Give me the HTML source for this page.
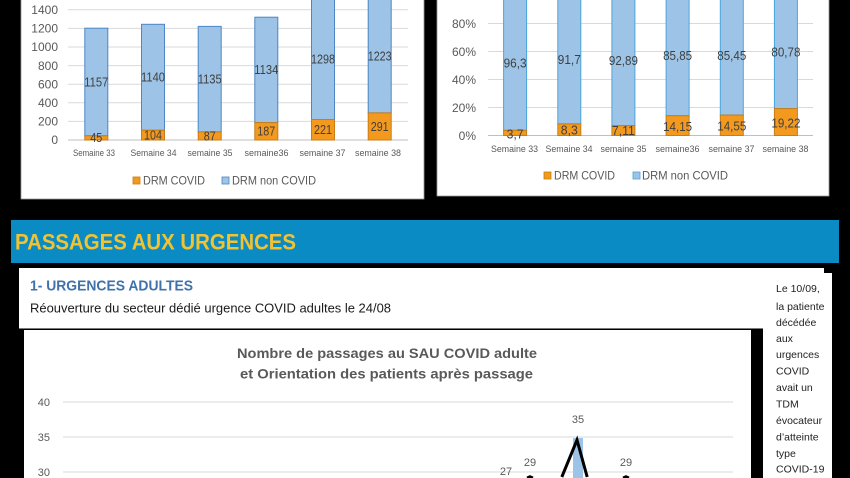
<!DOCTYPE html>
<html><head><meta charset="utf-8"><style>
html,body{margin:0;padding:0;background:#000;width:850px;height:478px;overflow:hidden}
svg{display:block;font-family:"Liberation Sans",sans-serif}
</style></head><body>
<svg width="850" height="478" viewBox="0 0 850 478" xmlns="http://www.w3.org/2000/svg">
<rect width="850" height="478" fill="#000"/>

<!-- ===== Top-left chart ===== -->
<rect x="21" y="-2" width="403" height="201" fill="#fff" stroke="#9a9a9a" stroke-width="0.8"/>
<g stroke="#d9d9d9" stroke-width="1">
<line x1="68" x2="408" y1="9.8" y2="9.8"/><line x1="68" x2="408" y1="28.4" y2="28.4"/>
<line x1="68" x2="408" y1="47" y2="47"/><line x1="68" x2="408" y1="65.6" y2="65.6"/>
<line x1="68" x2="408" y1="84.2" y2="84.2"/><line x1="68" x2="408" y1="102.8" y2="102.8"/>
<line x1="68" x2="408" y1="121.4" y2="121.4"/>
</g>
<line x1="68" x2="408" y1="140" y2="140" stroke="#bfbfbf"/>
<g font-size="12" fill="#595959" text-anchor="end">
<text x="58" y="14">1400</text><text x="58" y="32.6">1200</text><text x="58" y="51.2">1000</text>
<text x="58" y="69.8">800</text><text x="58" y="88.4">600</text><text x="58" y="107">400</text>
<text x="58" y="125.6">200</text><text x="58" y="144.2">0</text>
</g>
<g stroke="#4f86c6" stroke-width="1" fill="#9dc3e6">
<rect x="84.8" y="28.2" width="23" height="107.6"/>
<rect x="141.5" y="24.3" width="23" height="106"/>
<rect x="198.2" y="26.4" width="23" height="105.5"/>
<rect x="254.8" y="17.2" width="23" height="105.4"/>
<rect x="311.5" y="-2" width="23" height="121.5"/>
<rect x="368.2" y="-2" width="23" height="114.9"/>
</g>
<g stroke="#c97d14" stroke-width="1" fill="#f39a1e">
<rect x="84.8" y="135.8" width="23" height="4.2"/>
<rect x="141.5" y="130.3" width="23" height="9.7"/>
<rect x="198.2" y="131.9" width="23" height="8.1"/>
<rect x="254.8" y="122.6" width="23" height="17.4"/>
<rect x="311.5" y="119.5" width="23" height="20.5"/>
<rect x="368.2" y="112.9" width="23" height="27.1"/>
</g>
<g font-size="12.5" fill="#404040" text-anchor="middle">
<text x="96.3" y="86.3" textLength="24" lengthAdjust="spacingAndGlyphs">1157</text>
<text x="153" y="81.6" textLength="24" lengthAdjust="spacingAndGlyphs">1140</text>
<text x="209.7" y="83.4" textLength="24" lengthAdjust="spacingAndGlyphs">1135</text>
<text x="266.3" y="74.2" textLength="24" lengthAdjust="spacingAndGlyphs">1134</text>
<text x="323" y="63.4" textLength="24" lengthAdjust="spacingAndGlyphs">1298</text>
<text x="379.7" y="60.4" textLength="24" lengthAdjust="spacingAndGlyphs">1223</text>
<text x="96.3" y="142.2" textLength="12" lengthAdjust="spacingAndGlyphs">45</text>
<text x="153" y="139.5" textLength="18" lengthAdjust="spacingAndGlyphs">104</text>
<text x="209.7" y="140.3" textLength="12" lengthAdjust="spacingAndGlyphs">87</text>
<text x="266.3" y="135.6" textLength="18" lengthAdjust="spacingAndGlyphs">187</text>
<text x="323" y="134" textLength="18" lengthAdjust="spacingAndGlyphs">221</text>
<text x="379.7" y="130.8" textLength="18" lengthAdjust="spacingAndGlyphs">291</text>
</g>
<g font-size="9" fill="#595959" text-anchor="middle">
<text x="94" y="156.2" textLength="42" lengthAdjust="spacingAndGlyphs">Semaine 33</text>
<text x="153.5" y="156.2" textLength="46" lengthAdjust="spacingAndGlyphs">Semaine 34</text>
<text x="210" y="156.2" textLength="45" lengthAdjust="spacingAndGlyphs">semaine 35</text>
<text x="266.5" y="156.2" textLength="44" lengthAdjust="spacingAndGlyphs">semaine36</text>
<text x="322.5" y="156.2" textLength="46" lengthAdjust="spacingAndGlyphs">semaine 37</text>
<text x="378" y="156.2" textLength="46" lengthAdjust="spacingAndGlyphs">semaine 38</text>
</g>
<rect x="133" y="177" width="7" height="7" fill="#f39a1e" stroke="#c97d14" stroke-width="0.8"/>
<rect x="222" y="177" width="7" height="7" fill="#9dc3e6" stroke="#4f86c6" stroke-width="0.8"/>
<g font-size="12" fill="#595959">
<text x="143" y="184.3" textLength="62" lengthAdjust="spacingAndGlyphs">DRM COVID</text>
<text x="232" y="184.3" textLength="84" lengthAdjust="spacingAndGlyphs">DRM non COVID</text>
</g>

<!-- ===== Top-right chart ===== -->
<rect x="437" y="-2" width="392" height="198" fill="#fff" stroke="#9a9a9a" stroke-width="0.8"/>
<g stroke="#d9d9d9" stroke-width="1">
<line x1="488" x2="813" y1="23.5" y2="23.5"/><line x1="488" x2="813" y1="51.5" y2="51.5"/>
<line x1="488" x2="813" y1="79.5" y2="79.5"/><line x1="488" x2="813" y1="107.5" y2="107.5"/>
</g>
<line x1="488" x2="813" y1="135.5" y2="135.5" stroke="#bfbfbf"/>
<g font-size="12" fill="#595959" text-anchor="end">
<text x="476" y="27.8">80%</text><text x="476" y="55.8">60%</text><text x="476" y="83.8">40%</text>
<text x="476" y="111.8">20%</text><text x="476" y="139.8">0%</text>
</g>
<g stroke="#4aa6dc" stroke-width="1" fill="#9dc3e6">
<rect x="503.6" y="-6" width="23" height="136.3"/>
<rect x="557.8" y="-6" width="23" height="129.9"/>
<rect x="611.9" y="-6" width="23" height="131.6"/>
<rect x="666.1" y="-6" width="23" height="121.7"/>
<rect x="720.3" y="-6" width="23" height="121.1"/>
<rect x="774.4" y="-6" width="23" height="114.6"/>
</g>
<g stroke="#c97d14" stroke-width="1" fill="#f39a1e">
<rect x="503.6" y="130.3" width="23" height="5.2"/>
<rect x="557.8" y="123.9" width="23" height="11.6"/>
<rect x="611.9" y="125.6" width="23" height="9.9"/>
<rect x="666.1" y="115.7" width="23" height="19.8"/>
<rect x="720.3" y="115.1" width="23" height="20.4"/>
<rect x="774.4" y="108.6" width="23" height="26.9"/>
</g>
<g font-size="12.5" fill="#404040" text-anchor="middle">
<text x="515.1" y="67.4" textLength="23" lengthAdjust="spacingAndGlyphs">96,3</text>
<text x="569.3" y="64.2" textLength="23" lengthAdjust="spacingAndGlyphs">91,7</text>
<text x="623.4" y="65" textLength="29" lengthAdjust="spacingAndGlyphs">92,89</text>
<text x="677.6" y="60" textLength="29" lengthAdjust="spacingAndGlyphs">85,85</text>
<text x="731.8" y="59.8" textLength="29" lengthAdjust="spacingAndGlyphs">85,45</text>
<text x="785.9" y="56.5" textLength="29" lengthAdjust="spacingAndGlyphs">80,78</text>
<text x="515.1" y="138.6" textLength="17" lengthAdjust="spacingAndGlyphs">3,7</text>
<text x="569.3" y="134.4" textLength="17" lengthAdjust="spacingAndGlyphs">8,3</text>
<text x="623.4" y="135.2" textLength="23" lengthAdjust="spacingAndGlyphs">7,11</text>
<text x="677.6" y="130.8" textLength="29" lengthAdjust="spacingAndGlyphs">14,15</text>
<text x="731.8" y="130.6" textLength="29" lengthAdjust="spacingAndGlyphs">14,55</text>
<text x="785.9" y="127.3" textLength="29" lengthAdjust="spacingAndGlyphs">19,22</text>
</g>
<g font-size="9" fill="#595959" text-anchor="middle">
<text x="514.5" y="152.2" textLength="47" lengthAdjust="spacingAndGlyphs">Semaine 33</text>
<text x="569" y="152.2" textLength="47" lengthAdjust="spacingAndGlyphs">Semaine 34</text>
<text x="623.5" y="152.2" textLength="46" lengthAdjust="spacingAndGlyphs">semaine 35</text>
<text x="677.5" y="152.2" textLength="44" lengthAdjust="spacingAndGlyphs">semaine36</text>
<text x="731.5" y="152.2" textLength="46" lengthAdjust="spacingAndGlyphs">semaine 37</text>
<text x="785.5" y="152.2" textLength="46" lengthAdjust="spacingAndGlyphs">semaine 38</text>
</g>
<rect x="544" y="172" width="7" height="7" fill="#f39a1e" stroke="#c97d14" stroke-width="0.8"/>
<rect x="633" y="172" width="7" height="7" fill="#9dc3e6" stroke="#4aa6dc" stroke-width="0.8"/>
<g font-size="12" fill="#595959">
<text x="554" y="179.3" textLength="61" lengthAdjust="spacingAndGlyphs">DRM COVID</text>
<text x="642" y="179.3" textLength="86" lengthAdjust="spacingAndGlyphs">DRM non COVID</text>
</g>

<!-- ===== Banner ===== -->
<rect x="11" y="220" width="828" height="43" fill="#0b8bc3"/>
<text x="15" y="249.5" font-size="22" font-weight="bold" fill="#f2c230" textLength="281" lengthAdjust="spacingAndGlyphs">PASSAGES AUX URGENCES</text>

<!-- ===== Text box + note column ===== -->
<rect x="19" y="268" width="805" height="60" fill="#fff"/>
<line x1="19" x2="763" y1="328.5" y2="328.5" stroke="#7a7a7a" stroke-width="1"/>
<rect x="763" y="273" width="69" height="205" fill="#fff"/>
<text x="30" y="290.5" font-size="15" font-weight="bold" fill="#3f72aa" textLength="163" lengthAdjust="spacingAndGlyphs">1- URGENCES ADULTES</text>
<text x="30" y="312.5" font-size="13" fill="#1a1a1a" textLength="361" lengthAdjust="spacingAndGlyphs">Réouverture du secteur dédié urgence COVID adultes le 24/08</text>
<g font-size="10.5" fill="#222">
<text x="776" y="291.8">Le 10/09,</text>
<text x="776" y="309.8">la patiente</text>
<text x="776" y="325.8">décédée</text>
<text x="776" y="341.8">aux</text>
<text x="776" y="357.8">urgences</text>
<text x="776" y="374.3">COVID</text>
<text x="776" y="390.8">avait un</text>
<text x="776" y="407.3">TDM</text>
<text x="776" y="423.8">évocateur</text>
<text x="776" y="440.3">d’atteinte</text>
<text x="776" y="456.8">type</text>
<text x="776" y="472.3">COVID-19</text>
</g>

<!-- ===== Line chart box ===== -->
<rect x="24" y="330" width="727" height="148" fill="#fff"/>
<g font-size="14" font-weight="bold" fill="#595959" text-anchor="middle">
<text x="387" y="358" textLength="300" lengthAdjust="spacingAndGlyphs">Nombre de passages au SAU COVID adulte</text>
<text x="386.5" y="378.5" textLength="293" lengthAdjust="spacingAndGlyphs">et Orientation des patients après passage</text>
</g>
<g stroke="#d9d9d9" stroke-width="1">
<line x1="63" x2="733" y1="402" y2="402"/>
<line x1="63" x2="733" y1="437" y2="437"/>
<line x1="63" x2="733" y1="472" y2="472"/>
</g>
<g font-size="11" fill="#595959" text-anchor="end">
<text x="50" y="406">40</text><text x="50" y="441">35</text><text x="50" y="476">30</text>
</g>
<rect x="573" y="438" width="10" height="40" fill="#9dc3e6"/>
<polyline points="561.8,477 577,440 587.2,477" fill="none" stroke="#000" stroke-width="3" stroke-linejoin="miter" stroke-miterlimit="10"/>
<polyline points="527,477.8 530,476.5 533,477.8" fill="none" stroke="#000" stroke-width="2.5" stroke-linejoin="miter"/>
<polyline points="623,477.8 626,476.5 629,477.8" fill="none" stroke="#000" stroke-width="2.5" stroke-linejoin="miter"/>
<g font-size="11" fill="#595959" text-anchor="middle">
<text x="578" y="423">35</text>
<text x="530" y="466">29</text>
<text x="626" y="466">29</text>
<text x="506" y="475">27</text>
</g>
</svg>
</body></html>
